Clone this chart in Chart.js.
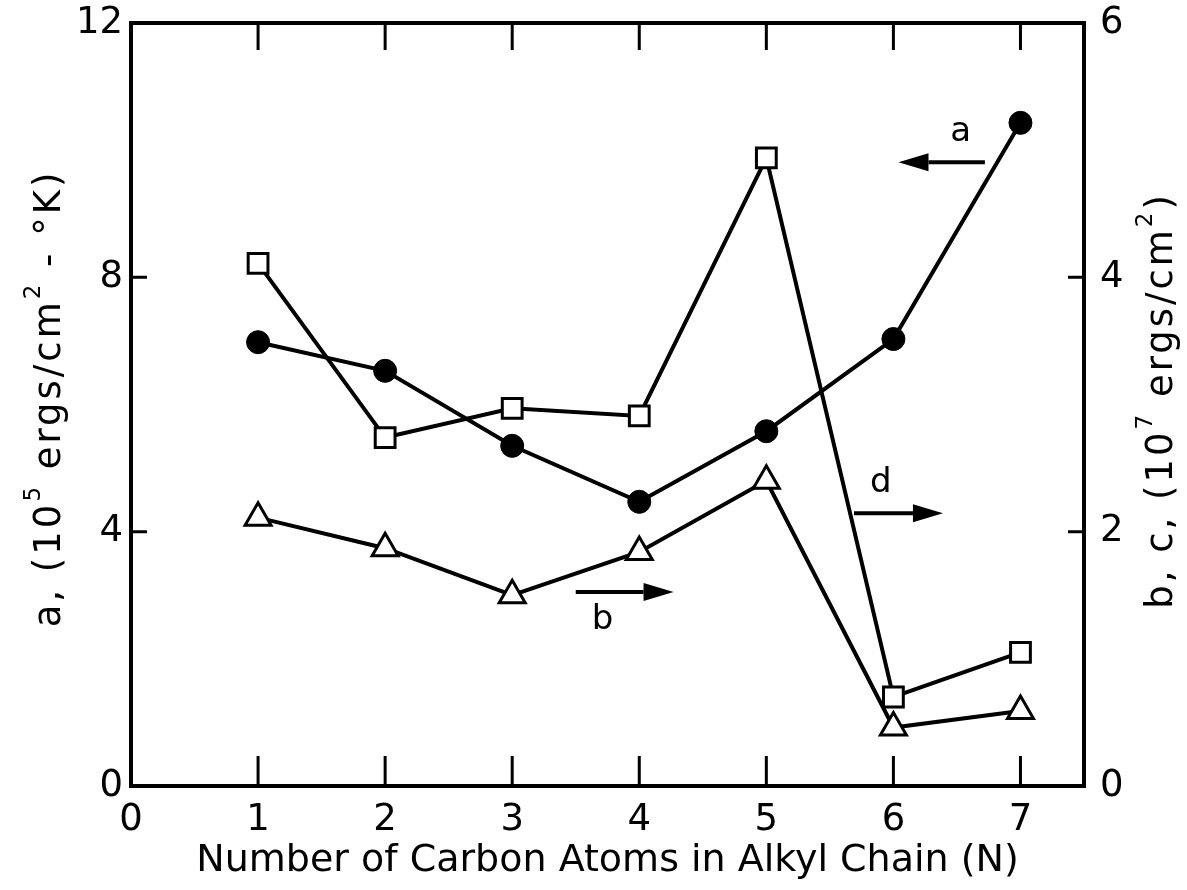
<!DOCTYPE html>
<html>
<head>
<meta charset="utf-8">
<script src="https://cdn.jsdelivr.net/npm/chart.js@4.4.0/dist/chart.umd.min.js"></script>
<style>
  html, body { margin: 0; padding: 0; background: #fff; }
  #chart { display: block; }
</style>
</head>
<body>
<canvas id="chart" width="1187" height="890"></canvas>
<script>
// Number of carbon atoms in the alkyl chain
const carbonAtoms = [1, 2, 3, 4, 5, 6, 7];
// a: filled circles, left axis (10^5 ergs/cm2-K)
const seriesA = [6.98, 6.53, 5.35, 4.47, 5.58, 7.03, 10.43];
// b: open triangles, right axis (10^7 ergs/cm2)
const seriesB = [2.11, 1.87, 1.50, 1.84, 2.40, 0.46, 0.59];
// d: open squares, right axis (10^7 ergs/cm2)
const seriesD = [4.11, 2.74, 2.97, 2.91, 4.94, 0.70, 1.05];

const xTicks = [0, 1, 2, 3, 4, 5, 6, 7];
const leftTicks = [0, 4, 8, 12];
const rightTicks = [0, 2, 4, 6];

// arrow annotations (x in N, y in left-axis units)
const arrowLabels = ['a', 'd', 'b'];
const arrowFrom = [6.72, 5.69, 3.50];
const arrowTo = [6.04, 6.39, 4.27];
const arrowY = [9.81, 4.29, 3.05];
const labelX = [6.53, 5.90, 3.71];
const labelY = [10.29, 4.77, 2.61];

const FONT = "'DejaVu Sans', sans-serif";

function fixTicks(values) {
    return function(scale) {
        scale.ticks = values.map(v => ({ value: v }));
    };
}

// fixed width for a y axis, and fixed room above the plot
function fixYAxis(width) {
    return function(scale) {
        scale.width = width;
        scale.paddingTop = 23;
        scale.paddingBottom = 0;
    };
}

// draws text with superscript pieces, centred on the origin
function drawRich(ctx, parts, size) {
    ctx.letterSpacing = '3px';
    let total = 0;
    parts.forEach(p => {
        ctx.font = (p[1] ? size * 0.62 : size) + 'px ' + FONT;
        total += ctx.measureText(p[0]).width;
    });
    let x = -total / 2;
    ctx.textAlign = 'left';
    ctx.textBaseline = 'middle';
    parts.forEach(p => {
        ctx.font = (p[1] ? size * 0.62 : size) + 'px ' + FONT;
        ctx.fillText(p[0], x, p[1] ? -size * 0.42 : 0);
        x += ctx.measureText(p[0]).width;
    });
}

const framePlugin = {
    id: 'framePlugin',
    afterDatasetsDraw(chart) {
        const { ctx, chartArea: a, scales } = chart;
        ctx.save();
        ctx.strokeStyle = '#000';
        ctx.fillStyle = '#000';
        ctx.lineCap = 'butt';

        // inward tick marks
        ctx.lineWidth = 3;
        ctx.beginPath();
        xTicks.forEach(v => {
            if (v <= 0) return;
            const px = scales.x.getPixelForValue(v);
            ctx.moveTo(px, a.bottom);
            ctx.lineTo(px, a.bottom - 30);
            ctx.moveTo(px, a.top);
            ctx.lineTo(px, a.top + 27);
        });
        leftTicks.forEach(v => {
            if (v <= 0 || v >= 12) return;
            const py = scales.y.getPixelForValue(v);
            ctx.moveTo(a.left, py);
            ctx.lineTo(a.left + 16, py);
        });
        rightTicks.forEach(v => {
            if (v <= 0 || v >= 6) return;
            const py = scales.y1.getPixelForValue(v);
            ctx.moveTo(a.right, py);
            ctx.lineTo(a.right - 16, py);
        });
        ctx.stroke();

        // frame
        ctx.lineWidth = 4;
        ctx.strokeRect(a.left, a.top, a.width, a.height);

        // arrows and their letters
        ctx.lineWidth = 4;
        arrowLabels.forEach((lab, i) => {
            const x0 = scales.x.getPixelForValue(arrowFrom[i]);
            const x1 = scales.x.getPixelForValue(arrowTo[i]);
            const y = scales.y.getPixelForValue(arrowY[i]);
            const dir = Math.sign(x1 - x0);
            const headLen = 30;
            ctx.beginPath();
            ctx.moveTo(x0, y);
            ctx.lineTo(x1 - dir * headLen, y);
            ctx.stroke();
            ctx.beginPath();
            ctx.moveTo(x1, y);
            ctx.lineTo(x1 - dir * headLen, y - 9);
            ctx.lineTo(x1 - dir * headLen, y + 9);
            ctx.closePath();
            ctx.fill();

            ctx.font = '34px ' + FONT;
            ctx.textAlign = 'center';
            ctx.textBaseline = 'middle';
            ctx.fillText(lab, scales.x.getPixelForValue(labelX[i]), scales.y.getPixelForValue(labelY[i]));
        });

        // y axis titles, both read bottom to top
        const midY = (a.top + a.bottom) / 2;
        ctx.save();
        ctx.translate(50, midY - 6);
        ctx.rotate(-Math.PI / 2);
        drawRich(ctx, [['a, (10', false], ['5', true], [' ergs/cm', false], ['2', true], [' - \u00b0K)', false]], 37);
        ctx.restore();

        ctx.save();
        ctx.translate(1162, midY - 4);
        ctx.rotate(-Math.PI / 2);
        drawRich(ctx, [['b, c, (10', false], ['7', true], [' ergs/cm', false], ['2', true], [')', false]], 37);
        ctx.restore();

        ctx.restore();
    }
};

const ctx = document.getElementById('chart').getContext('2d');
new Chart(ctx, {
    type: 'line',
    data: {
        labels: carbonAtoms,
        datasets: [{
            label: 'a',
            data: carbonAtoms.map((n, i) => ({ x: n, y: seriesA[i] })),
            yAxisID: 'y',
            borderColor: '#000',
            borderWidth: 4,
            pointStyle: 'circle',
            pointRadius: 11.5,
            pointBackgroundColor: '#000',
            pointBorderColor: '#000',
            pointBorderWidth: 1
        }, {
            label: 'd',
            data: carbonAtoms.map((n, i) => ({ x: n, y: seriesD[i] })),
            yAxisID: 'y1',
            borderColor: '#000',
            borderWidth: 4,
            pointStyle: 'rect',
            pointRadius: 14,
            pointBackgroundColor: '#fff',
            pointBorderColor: '#000',
            pointBorderWidth: 3
        }, {
            label: 'b',
            data: carbonAtoms.map((n, i) => ({ x: n, y: seriesB[i] })),
            yAxisID: 'y1',
            borderColor: '#000',
            borderWidth: 4,
            pointStyle: 'triangle',
            pointRadius: 15,
            pointBackgroundColor: '#fff',
            pointBorderColor: '#000',
            pointBorderWidth: 3
        }]
    },
    options: {
        responsive: false,
        animation: false,
        clip: false,
        layout: { padding: { top: 0, left: 0, right: 0, bottom: 0 } },
        plugins: {
            legend: { display: false },
            tooltip: { enabled: false }
        },
        elements: { line: { tension: 0 } },
        scales: {
            x: {
                type: 'linear',
                min: 0,
                max: 7.5,
                afterBuildTicks: fixTicks(xTicks),
                afterFit: function(scale) { scale.height = 104; },
                grid: { display: false, drawTicks: false },
                border: { display: false },
                ticks: {
                    color: '#000',
                    padding: 12,
                    font: { family: FONT, size: 37 }
                },
                title: {
                    display: true,
                    text: 'Number of Carbon Atoms in Alkyl Chain (N)',
                    color: '#000',
                    font: { family: FONT, size: 38 },
                    padding: { top: 0, bottom: 6 }
                }
            },
            y: {
                position: 'left',
                min: 0,
                max: 12,
                afterBuildTicks: fixTicks(leftTicks),
                afterFit: fixYAxis(131),
                grid: { display: false, drawTicks: false },
                border: { display: false },
                ticks: {
                    color: '#000',
                    padding: 8,
                    font: { family: FONT, size: 37 }
                }
            },
            y1: {
                position: 'right',
                min: 0,
                max: 6,
                afterBuildTicks: fixTicks(rightTicks),
                afterFit: fixYAxis(103),
                grid: { display: false, drawTicks: false },
                border: { display: false },
                ticks: {
                    color: '#000',
                    padding: 16,
                    font: { family: FONT, size: 37 }
                }
            }
        }
    },
    plugins: [framePlugin]
});
</script>
</body>
</html>
